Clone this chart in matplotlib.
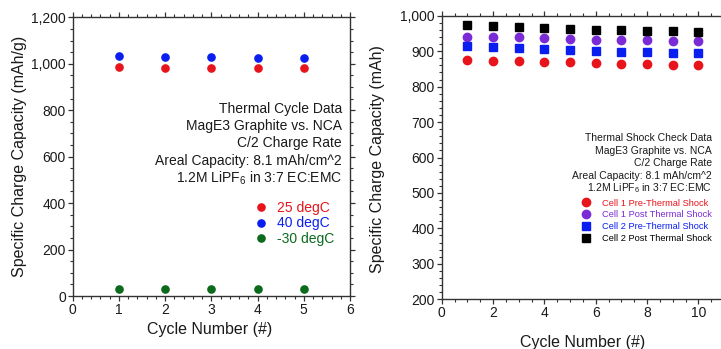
import matplotlib
matplotlib.use("Agg")
import matplotlib.pyplot as plt
from matplotlib.ticker import MultipleLocator, FuncFormatter

plt.rcParams["font.family"] = ["Liberation Sans", "DejaVu Sans"]
plt.rcParams["mathtext.fontset"] = "custom"
plt.rcParams["mathtext.rm"] = "Liberation Sans"
plt.rcParams["mathtext.it"] = "Liberation Sans"

# left panel: thermal cycle data
cycles_a = [1, 2, 3, 4, 5]
cap_25 = [985, 983, 982, 980, 980]
cap_40 = [1032, 1030, 1028, 1026, 1024]
cap_m30 = [28, 28, 28, 30, 30]

# right panel: thermal shock check data
cycles_b = [1, 2, 3, 4, 5, 6, 7, 8, 9, 10]
cell1_pre = [874, 873, 871, 869, 868, 866, 865, 863, 862, 861]
cell1_post = [941, 940, 939, 936, 934, 932, 932, 931, 930, 929]
cell2_pre = [914, 911, 909, 906, 903, 901, 899, 897, 896, 894]
cell2_post = [974, 971, 968, 966, 963, 961, 961, 958, 957, 955]

notes_a = ["Thermal Cycle Data", "MagE3 Graphite vs. NCA", "C/2 Charge Rate",
           "Areal Capacity: 8.1 mAh/cm^2", "1.2M LiPF$_6$ in 3:7 EC:EMC"]
notes_b = ["Thermal Shock Check Data", "MagE3 Graphite vs. NCA", "C/2 Charge Rate",
           "Areal Capacity: 8.1 mAh/cm^2", "1.2M LiPF$_6$ in 3:7 EC:EMC"]

RED = "#e8141b"
BLUE = "#0a1ef0"
GREEN = "#0b6a1c"
PURPLE = "#7b2bd6"
TXT = "#1a1a1a"

W, H = 721, 349
fig = plt.figure(figsize=(W / 100, H / 100), dpi=100)


def px(x, y):
    return x / W, 1 - y / H


def style(ax):
    for s in ax.spines.values():
        s.set_color("#333333")
        s.set_linewidth(1.0)
    ax.tick_params(which="both", direction="out", top=True, right=True,
                   colors="#333333", labelcolor=TXT, labelsize=10, pad=1.5)
    ax.tick_params(which="major", length=3.5, width=0.9)
    ax.tick_params(which="minor", length=2, width=0.8)


comma = FuncFormatter(lambda v, p: f"{int(v):,}")

# ---- left
ax1 = fig.add_axes([72.7 / W, 1 - 296 / H, (350 - 72.7) / W, (296 - 17.3) / H])
style(ax1)
ax1.plot(cycles_a, cap_25, "o", color=RED, ms=5.2, label="25 degC")
ax1.plot(cycles_a, cap_40, "o", color=BLUE, ms=5.2, label="40 degC")
ax1.plot(cycles_a, cap_m30, "o", color=GREEN, ms=5.2, label="-30 degC")
ax1.set_xlim(0, 6)
ax1.set_ylim(0, 1200)
ax1.xaxis.set_major_locator(MultipleLocator(1))
ax1.xaxis.set_minor_locator(MultipleLocator(0.2))
ax1.yaxis.set_major_locator(MultipleLocator(200))
ax1.yaxis.set_minor_locator(MultipleLocator(50))
ax1.yaxis.set_major_formatter(comma)
ax1.set_xlabel("Cycle Number (#)", fontsize=11.5, color=TXT)
ax1.set_ylabel("Specific Charge Capacity (mAh/g)", fontsize=11.5, color=TXT)
ax1.xaxis.set_label_coords(0.495, -0.093)
ax1.yaxis.set_label_coords(-0.165, 0.5)
for i, t in enumerate(notes_a):
    fig.text(*px(342, 109 + i * 17.2), t, ha="right", va="center",
             fontsize=10, color=TXT)
ax1.legend(loc="upper left", bbox_to_anchor=px(254, 201), bbox_transform=fig.transFigure,
           frameon=False, fontsize=10, borderpad=0, borderaxespad=0,
           handlelength=1.0, handletextpad=0.65, labelspacing=0.1,
           labelcolor="markerfacecolor")

# ---- right
ax2 = fig.add_axes([441.7 / W, 1 - 299.3 / H, (W - 441.7) / W, (299.3 - 15.7) / H])
style(ax2)
ax2.spines["right"].set_visible(False)
ax2.tick_params(which="both", right=False)
ax2.plot(cycles_b, cell1_pre, "o", color=RED, ms=6, label="Cell 1 Pre-Thermal Shock")
ax2.plot(cycles_b, cell1_post, "o", color=PURPLE, ms=6, label="Cell 1 Post Thermal Shock")
ax2.plot(cycles_b, cell2_pre, "s", color=BLUE, ms=5.5, label="Cell 2 Pre-Thermal Shock")
ax2.plot(cycles_b, cell2_post, "s", color="black", ms=5.5, label="Cell 2 Post Thermal Shock")
ax2.set_xlim(0, 10.88)
ax2.set_ylim(200, 1000)
ax2.xaxis.set_major_locator(MultipleLocator(2))
ax2.xaxis.set_minor_locator(MultipleLocator(0.5))
ax2.yaxis.set_major_locator(MultipleLocator(100))
ax2.yaxis.set_minor_locator(MultipleLocator(20))
ax2.yaxis.set_major_formatter(comma)
ax2.set_xlabel("Cycle Number (#)", fontsize=11.5, color=TXT)
ax2.set_ylabel("Specific Charge Capacity (mAh)", fontsize=11.5, color=TXT)
ax2.xaxis.set_label_coords(0.506, -0.126)
ax2.yaxis.set_label_coords(-0.203, 0.495)
for i, t in enumerate(notes_b):
    fig.text(*px(712, 138 + i * 12.6), t, ha="right", va="center",
             fontsize=7.5, color=TXT)
ax2.legend(loc="upper left", bbox_to_anchor=px(581, 198.5), bbox_transform=fig.transFigure,
           frameon=False, fontsize=6.7, borderpad=0, borderaxespad=0,
           handlelength=1.0, handletextpad=1.26, labelspacing=0.32,
           labelcolor="markerfacecolor")

fig.savefig("out.png", dpi=100)
